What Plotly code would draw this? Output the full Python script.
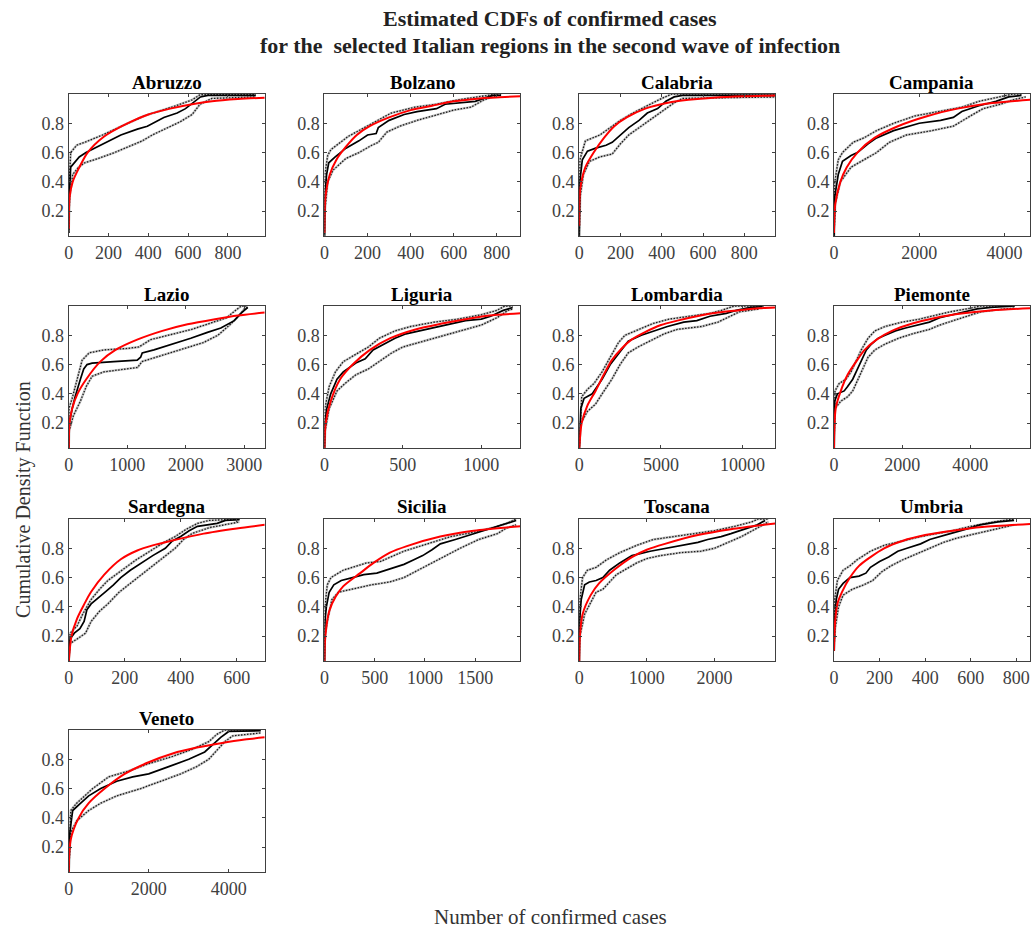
import plotly.graph_objects as go

regions = ["Abruzzo", "Bolzano", "Calabria", "Campania",
           "Lazio", "Liguria", "Lombardia", "Piemonte",
           "Sardegna", "Sicilia", "Toscana", "Umbria", "Veneto"]
x_max = [985, 910, 950, 4600, 3350, 1250, 12000, 5750, 700, 1950, 2900, 860, 4900]
x_dtick = [200, 200, 200, 2000, 1000, 500, 5000, 2000, 200, 500, 1000, 200, 2000]

# (cases, F) points
abruzzo_emp = [(0,0.05),(3,0.3),(10,0.5),(53,0.57),(87,0.6),(178,0.66),(262,0.72),(345,0.76),(395,0.78),(478,0.84),(545,0.87),(587,0.9),(637,0.95),(662,0.98),(700,0.99),(940,0.99)]
abruzzo_up = [(0,0.05),(3,0.4),(10,0.6),(40,0.65),(80,0.67),(170,0.72),(250,0.77),(300,0.8),(380,0.85),(470,0.89),(540,0.92),(620,0.96),(660,0.995),(940,0.995)]
abruzzo_lo = [(0,0.05),(5,0.3),(20,0.45),(50,0.5),(80,0.53),(150,0.56),(230,0.6),(300,0.64),(370,0.68),(420,0.72),(500,0.77),(560,0.81),(620,0.86),(660,0.93),(720,0.97),(940,0.98)]
abruzzo_fit = [(0,0.08),(5,0.3),(20,0.4),(50,0.49),(95,0.6),(178,0.71),(295,0.8),(400,0.86),(510,0.9),(620,0.93),(720,0.95),(850,0.965),(985,0.975)]

bolzano_emp = [(0,0.02),(2,0.3),(10,0.45),(20,0.53),(50,0.57),(100,0.63),(160,0.68),(200,0.72),(240,0.73),(250,0.77),(300,0.82),(370,0.86),(430,0.88),(520,0.9),(560,0.93),(700,0.95),(780,0.99),(820,0.99)]
bolzano_up = [(0,0.02),(2,0.45),(15,0.58),(30,0.62),(110,0.71),(200,0.78),(260,0.83),(310,0.87),(420,0.91),(520,0.93),(620,0.96),(720,0.985),(800,1.0),(820,1.0)]
bolzano_lo = [(0,0.02),(2,0.2),(15,0.4),(40,0.48),(100,0.56),(160,0.6),(220,0.65),(250,0.67),(290,0.74),(350,0.78),(430,0.82),(530,0.86),(600,0.89),(680,0.91),(740,0.96),(800,0.99)]
bolzano_fit = [(0,0.05),(5,0.3),(25,0.45),(55,0.55),(100,0.64),(150,0.72),(210,0.78),(300,0.84),(400,0.89),(500,0.92),(600,0.95),(720,0.97),(910,0.985)]

calabria_emp = [(0,0.02),(3,0.4),(15,0.55),(40,0.61),(80,0.63),(130,0.65),(160,0.67),(200,0.72),(240,0.77),(290,0.82),(330,0.87),(380,0.9),(420,0.95),(460,0.98),(500,0.99),(950,0.99)]
calabria_up = [(0,0.02),(3,0.55),(30,0.68),(100,0.72),(150,0.77),(200,0.82),(260,0.87),(330,0.92),(400,0.97),(450,1.0),(950,1.0)]
calabria_lo = [(0,0.02),(5,0.3),(20,0.45),(50,0.54),(100,0.57),(160,0.59),(200,0.66),(240,0.72),(300,0.78),(360,0.84),(420,0.9),(460,0.94),(500,0.97),(950,0.98)]
calabria_fit = [(0,0.1),(5,0.35),(30,0.5),(70,0.6),(120,0.7),(170,0.78),(230,0.84),(320,0.9),(430,0.94),(530,0.96),(650,0.975),(800,0.985),(950,0.99)]

campania_emp = [(0,0.02),(20,0.3),(100,0.45),(200,0.54),(400,0.58),(550,0.6),(800,0.66),(1000,0.7),(1400,0.75),(2000,0.8),(2500,0.82),(2800,0.84),(3000,0.88),(3400,0.92),(3800,0.95),(4100,0.98),(4400,0.99)]
campania_up = [(0,0.02),(20,0.4),(100,0.55),(200,0.6),(450,0.67),(700,0.7),(1000,0.75),(1400,0.8),(1900,0.85),(2500,0.88),(3000,0.91),(3400,0.95),(3900,0.98),(4200,1.0),(4400,1.0)]
campania_lo = [(0,0.02),(30,0.25),(150,0.4),(400,0.5),(700,0.55),(1000,0.6),(1300,0.67),(1700,0.72),(2300,0.75),(2800,0.78),(3200,0.85),(3500,0.9),(3900,0.93),(4200,0.96),(4500,0.98)]
campania_fit = [(0,0.05),(30,0.25),(150,0.4),(300,0.5),(550,0.6),(950,0.7),(1500,0.78),(2200,0.85),(2900,0.9),(3500,0.93),(4600,0.96)]

lazio_emp = [(0,0.02),(10,0.2),(60,0.3),(110,0.38),(200,0.5),(257,0.57),(314,0.6),(400,0.61),(771,0.62),(1171,0.63),(1229,0.65),(1257,0.68),(1457,0.7),(1857,0.75),(2086,0.78),(2371,0.82),(2600,0.85),(2829,0.9),(2943,0.95),(3060,0.99)]
lazio_up = [(0,0.02),(5,0.3),(60,0.37),(150,0.5),(230,0.63),(350,0.68),(600,0.7),(1000,0.71),(1200,0.72),(1400,0.77),(1700,0.8),(2100,0.84),(2400,0.88),(2700,0.92),(2850,0.97),(2950,1.0),(3060,1.0)]
lazio_lo = [(0,0.02),(10,0.15),(80,0.25),(200,0.35),(300,0.45),(400,0.52),(600,0.55),(1000,0.57),(1180,0.58),(1250,0.62),(1500,0.65),(1900,0.7),(2300,0.75),(2550,0.8),(2750,0.87),(2900,0.93),(3000,0.98),(3060,0.99)]
lazio_fit = [(0,0.02),(15,0.2),(60,0.3),(150,0.4),(300,0.5),(540,0.62),(800,0.7),(1170,0.77),(1600,0.83),(2030,0.875),(2500,0.91),(2890,0.935),(3350,0.955)]

liguria_emp = [(0,0.02),(3,0.2),(15,0.3),(40,0.4),(80,0.5),(120,0.55),(200,0.61),(260,0.64),(310,0.7),(380,0.74),(450,0.78),(520,0.81),(600,0.83),(700,0.85),(800,0.88),(900,0.9),(1000,0.91),(1060,0.93),(1140,0.97),(1200,0.99)]
liguria_up = [(0,0.02),(3,0.3),(30,0.45),(70,0.55),(120,0.62),(200,0.67),(280,0.72),(350,0.78),(450,0.83),(550,0.86),(700,0.89),(850,0.91),(1000,0.94),(1100,0.97),(1150,1.0),(1200,1.0)]
liguria_lo = [(0,0.02),(5,0.15),(30,0.3),(80,0.42),(130,0.47),(200,0.53),(280,0.57),(350,0.62),(430,0.68),(500,0.72),(600,0.75),(700,0.78),(800,0.81),(900,0.84),(1000,0.87),(1100,0.92),(1170,0.97),(1200,0.98)]
liguria_fit = [(0,0.02),(8,0.2),(40,0.35),(100,0.5),(180,0.6),(290,0.7),(420,0.78),(580,0.84),(750,0.88),(900,0.91),(1050,0.935),(1250,0.95)]

lombardia_emp = [(0,0.02),(100,0.3),(300,0.37),(800,0.4),(1100,0.45),(1400,0.5),(1900,0.6),(2600,0.7),(3000,0.76),(3800,0.8),(4600,0.83),(5400,0.86),(6400,0.89),(7200,0.9),(8000,0.93),(9000,0.95),(9600,0.97),(10500,0.99),(11200,0.995)]
lombardia_up = [(0,0.02),(150,0.38),(500,0.43),(900,0.47),(1400,0.55),(1900,0.65),(2400,0.75),(2800,0.8),(3600,0.84),(4500,0.88),(5500,0.91),(6800,0.93),(8000,0.95),(8700,0.97),(9500,1.0),(11300,1.0)]
lombardia_lo = [(0,0.02),(100,0.2),(500,0.28),(1000,0.33),(1400,0.4),(2000,0.5),(2500,0.6),(3000,0.68),(3600,0.72),(4500,0.77),(5200,0.81),(6000,0.84),(7500,0.86),(8500,0.89),(9300,0.93),(9800,0.96),(11000,0.98)]
lombardia_fit = [(0,0.02),(150,0.2),(500,0.32),(1000,0.42),(1500,0.53),(2000,0.63),(2600,0.71),(3200,0.77),(4000,0.82),(5000,0.87),(6000,0.9),(7200,0.93),(8500,0.955),(9700,0.97),(11000,0.985),(12000,0.99)]

piemonte_emp = [(0,0.02),(20,0.35),(100,0.4),(300,0.42),(400,0.45),(550,0.5),(650,0.55),(750,0.6),(850,0.65),(950,0.7),(1100,0.74),(1300,0.78),(1500,0.8),(1800,0.83),(2100,0.85),(2500,0.87),(2800,0.89),(3100,0.92),(3500,0.94),(3800,0.96),(4200,0.98),(4600,0.99),(5300,1.0)]
piemonte_up = [(0,0.02),(30,0.42),(150,0.47),(350,0.5),(500,0.55),(650,0.62),(800,0.7),(1000,0.78),(1200,0.83),(1500,0.86),(2000,0.89),(2500,0.91),(3000,0.94),(3400,0.96),(3900,0.98),(4300,1.0),(5300,1.0)]
piemonte_lo = [(0,0.02),(30,0.3),(200,0.35),(400,0.38),(550,0.42),(700,0.5),(850,0.58),(1000,0.65),(1200,0.7),(1500,0.74),(1900,0.78),(2300,0.81),(2800,0.84),(3100,0.87),(3500,0.9),(3900,0.93),(4300,0.96),(5000,0.98),(5300,0.985)]
piemonte_fit = [(0,0.02),(50,0.3),(200,0.42),(400,0.53),(650,0.62),(900,0.7),(1250,0.77),(1700,0.83),(2300,0.88),(3000,0.92),(3800,0.95),(4600,0.97),(5750,0.985)]

sardegna_emp = [(0,0.02),(5,0.18),(20,0.22),(40,0.25),(55,0.3),(65,0.38),(80,0.42),(100,0.45),(130,0.5),(160,0.55),(186,0.6),(220,0.65),(260,0.7),(300,0.75),(345,0.8),(370,0.85),(400,0.88),(430,0.92),(460,0.95),(530,0.97),(560,0.99),(610,0.995)]
sardegna_up = [(0,0.02),(5,0.22),(30,0.27),(50,0.35),(80,0.45),(110,0.52),(140,0.58),(190,0.65),(240,0.72),(290,0.78),(340,0.84),(380,0.88),(420,0.93),(460,0.97),(500,0.99),(610,1.0)]
sardegna_lo = [(0,0.02),(5,0.15),(30,0.18),(60,0.22),(80,0.3),(110,0.37),(140,0.42),(180,0.5),(220,0.56),(260,0.62),(300,0.68),(350,0.75),(380,0.8),(410,0.86),(440,0.9),(500,0.94),(560,0.96),(610,0.98)]
sardegna_fit = [(0,0.02),(10,0.2),(30,0.32),(56,0.42),(79,0.5),(127,0.62),(186,0.725),(245,0.785),(300,0.82),(363,0.85),(482,0.9),(600,0.935),(700,0.96)]

sicilia_emp = [(0,0.02),(5,0.3),(19,0.4),(47,0.5),(93,0.55),(167,0.58),(279,0.6),(391,0.62),(521,0.63),(605,0.65),(698,0.67),(791,0.69),(884,0.72),(977,0.75),(1070,0.79),(1153,0.83),(1302,0.86),(1488,0.9),(1674,0.94),(1814,0.97),(1907,0.99)]
sicilia_up = [(0,0.02),(5,0.4),(28,0.55),(65,0.6),(186,0.65),(419,0.7),(558,0.71),(651,0.74),(791,0.78),(1023,0.83),(1256,0.88),(1488,0.91),(1674,0.94),(1814,0.97),(1907,1.0)]
sicilia_lo = [(0,0.02),(5,0.2),(28,0.3),(74,0.45),(140,0.5),(279,0.52),(465,0.55),(651,0.57),(791,0.6),(930,0.65),(1070,0.7),(1209,0.75),(1349,0.8),(1535,0.86),(1721,0.9),(1814,0.94),(1907,0.96)]
sicilia_fit = [(0,0.02),(9,0.2),(47,0.37),(112,0.47),(186,0.54),(355,0.63),(488,0.7),(651,0.77),(820,0.815),(1152,0.88),(1484,0.92),(1950,0.95)]

toscana_emp = [(0,0.02),(5,0.3),(30,0.45),(80,0.55),(150,0.57),(250,0.58),(350,0.6),(450,0.65),(600,0.7),(780,0.75),(1050,0.78),(1268,0.8),(1500,0.82),(1756,0.84),(1900,0.86),(2100,0.88),(2244,0.9),(2450,0.93),(2634,0.96),(2750,0.99)]
toscana_up = [(0,0.02),(10,0.45),(50,0.6),(120,0.65),(250,0.67),(400,0.72),(600,0.77),(850,0.82),(1100,0.86),(1400,0.88),(1700,0.9),(2000,0.92),(2300,0.95),(2550,0.98),(2650,1.0),(2800,1.0)]
toscana_lo = [(0,0.02),(10,0.2),(80,0.35),(200,0.45),(250,0.5),(350,0.52),(450,0.57),(550,0.62),(700,0.66),(850,0.7),(1000,0.73),(1200,0.75),(1500,0.77),(1800,0.78),(2000,0.8),(2200,0.84),(2400,0.88),(2600,0.93),(2750,0.97),(2800,0.98)]
toscana_fit = [(0,0.02),(10,0.2),(50,0.35),(170,0.48),(293,0.56),(537,0.66),(780,0.74),(1000,0.79),(1268,0.83),(1756,0.89),(2244,0.93),(2900,0.97)]

umbria_emp = [(0,0.1),(3,0.3),(10,0.45),(20,0.52),(40,0.56),(70,0.6),(110,0.61),(140,0.63),(160,0.67),(200,0.71),(240,0.74),(280,0.78),(320,0.8),(380,0.83),(420,0.86),(460,0.88),(510,0.9),(580,0.93),(640,0.96),(720,0.98),(790,0.99)]
umbria_up = [(0,0.1),(3,0.45),(15,0.58),(40,0.65),(70,0.68),(100,0.72),(160,0.78),(220,0.82),(300,0.85),(380,0.88),(450,0.9),(520,0.92),(600,0.95),(700,0.98),(790,1.0)]
umbria_lo = [(0,0.1),(5,0.25),(20,0.4),(40,0.48),(80,0.52),(130,0.55),(170,0.58),(210,0.64),(250,0.68),(300,0.72),(360,0.76),(420,0.8),(480,0.84),(540,0.87),(620,0.9),(700,0.93),(790,0.96)]
umbria_fit = [(0,0.1),(5,0.3),(15,0.42),(35,0.5),(70,0.6),(110,0.68),(160,0.74),(220,0.8),(300,0.85),(400,0.89),(520,0.92),(650,0.945),(860,0.965)]

veneto_emp = [(0,0.02),(30,0.3),(75,0.4),(100,0.45),(300,0.5),(500,0.55),(800,0.6),(1200,0.65),(1600,0.68),(2000,0.7),(2500,0.75),(3000,0.8),(3400,0.85),(3600,0.9),(3800,0.95),(4000,0.99),(4800,0.995)]
veneto_up = [(0,0.02),(50,0.45),(200,0.5),(600,0.6),(1000,0.68),(1500,0.72),(2000,0.77),(2600,0.82),(3100,0.87),(3500,0.92),(3700,0.97),(3900,1.0),(4800,1.0)]
veneto_lo = [(0,0.02),(50,0.3),(200,0.38),(500,0.45),(800,0.5),(1200,0.55),(1800,0.6),(2300,0.65),(2800,0.7),(3200,0.75),(3500,0.8),(3700,0.86),(3900,0.92),(4100,0.96),(4800,0.98)]
veneto_fit = [(0,0.02),(50,0.25),(250,0.4),(500,0.5),(900,0.6),(1400,0.7),(2000,0.78),(2600,0.84),(3200,0.88),(3800,0.91),(4400,0.935),(4900,0.95)]

series = {
    "Abruzzo": (abruzzo_emp, abruzzo_up, abruzzo_lo, abruzzo_fit),
    "Bolzano": (bolzano_emp, bolzano_up, bolzano_lo, bolzano_fit),
    "Calabria": (calabria_emp, calabria_up, calabria_lo, calabria_fit),
    "Campania": (campania_emp, campania_up, campania_lo, campania_fit),
    "Lazio": (lazio_emp, lazio_up, lazio_lo, lazio_fit),
    "Liguria": (liguria_emp, liguria_up, liguria_lo, liguria_fit),
    "Lombardia": (lombardia_emp, lombardia_up, lombardia_lo, lombardia_fit),
    "Piemonte": (piemonte_emp, piemonte_up, piemonte_lo, piemonte_fit),
    "Sardegna": (sardegna_emp, sardegna_up, sardegna_lo, sardegna_fit),
    "Sicilia": (sicilia_emp, sicilia_up, sicilia_lo, sicilia_fit),
    "Toscana": (toscana_emp, toscana_up, toscana_lo, toscana_fit),
    "Umbria": (umbria_emp, umbria_up, umbria_lo, umbria_fit),
    "Veneto": (veneto_emp, veneto_up, veneto_lo, veneto_fit),
}

W, H = 1035, 932
col_left = [64, 321, 577, 833]
col_w = 197
row_top = [94, 306, 519, 730]
row_h = 142
SERIF = "Liberation Serif, Times New Roman, serif"

fig = go.Figure()
layout_axes = {}
annotations = []

for i, name in enumerate(regions):
    r, c = divmod(i, 4)
    k = i + 1
    xa = "x" if k == 1 else f"x{k}"
    ya = "y" if k == 1 else f"y{k}"
    emp, up, lo, fit = series[name]
    for band in (up, lo):
        bx = [p[0] for p in band]
        by = [p[1] for p in band]
        fig.add_trace(go.Scatter(x=bx, y=by, mode="lines", xaxis=xa, yaxis=ya,
                                 line=dict(color="#c4c4c4", width=2.4), showlegend=False, hoverinfo="skip"))
        fig.add_trace(go.Scatter(x=bx, y=by, mode="lines", xaxis=xa, yaxis=ya,
                                 line=dict(color="#1a1a1a", width=1.3, dash="1.5px,1.5px"), showlegend=False))
    fig.add_trace(go.Scatter(x=[p[0] for p in emp], y=[p[1] for p in emp], mode="lines",
                             xaxis=xa, yaxis=ya, line=dict(color="black", width=1.7), showlegend=False))
    fig.add_trace(go.Scatter(x=[p[0] for p in fit], y=[p[1] for p in fit], mode="lines",
                             xaxis=xa, yaxis=ya, line=dict(color="#ff0000", width=2, shape="spline", smoothing=0.8),
                             showlegend=False))
    x0 = col_left[c] / W
    x1 = (col_left[c] + col_w) / W
    y1 = 1 - row_top[r] / H
    y0 = 1 - (row_top[r] + row_h) / H
    axis_common = dict(showline=True, mirror="ticks", linecolor="#404040", linewidth=1,
                       ticks="inside", ticklen=3, tickcolor="#404040", showgrid=False, zeroline=False,
                       tickfont=dict(family=SERIF, size=18, color="#404040"))
    layout_axes["xaxis" if k == 1 else f"xaxis{k}"] = dict(
        domain=[x0, x1], anchor=ya, range=[0, x_max[i]], tick0=0, dtick=x_dtick[i],
        tickformat="d", **axis_common)
    layout_axes["yaxis" if k == 1 else f"yaxis{k}"] = dict(
        domain=[y0, y1], anchor=xa, range=[0.03, 1.0], tickvals=[0.2, 0.4, 0.6, 0.8],
        ticktext=["0.2", "0.4", "0.6", "0.8"], **axis_common)
    annotations.append(dict(text=f"<b>{name}</b>", x=(x0 + x1) / 2, y=1 - (row_top[r] - 12) / H,
                            xref="paper", yref="paper", showarrow=False,
                            font=dict(family=SERIF, size=19, color="black"), xanchor="center", yanchor="middle"))

annotations.append(dict(text="<b>Estimated CDFs of confirmed cases</b>", x=548 / W, y=1 - 18 / H,
                        xref="paper", yref="paper", showarrow=False,
                        font=dict(family=SERIF, size=22, color="#222"), xanchor="center", yanchor="middle"))
annotations.append(dict(text="<b>for the  selected Italian regions in the second wave of infection</b>",
                        x=548 / W, y=1 - 45 / H, xref="paper", yref="paper", showarrow=False,
                        font=dict(family=SERIF, size=22, color="#222"), xanchor="center", yanchor="middle"))
annotations.append(dict(text="Number of confirmed cases", x=548 / W, y=1 - 917 / H,
                        xref="paper", yref="paper", showarrow=False,
                        font=dict(family=SERIF, size=21, color="#333"), xanchor="center", yanchor="middle"))
annotations.append(dict(text="Cumulative Density Function", x=18 / W, y=1 - 499 / H, textangle=-90,
                        xref="paper", yref="paper", showarrow=False,
                        font=dict(family=SERIF, size=20, color="#333"), xanchor="center", yanchor="middle"))

fig.update_layout(width=W, height=H, margin=dict(l=0, r=0, t=0, b=0),
                  paper_bgcolor="white", plot_bgcolor="white",
                  annotations=annotations, showlegend=False, **layout_axes)

fig.write_html("out.html", config={"displayModeBar": False},
               post_script="document.body.style.margin='0';document.body.style.overflow='hidden';")
